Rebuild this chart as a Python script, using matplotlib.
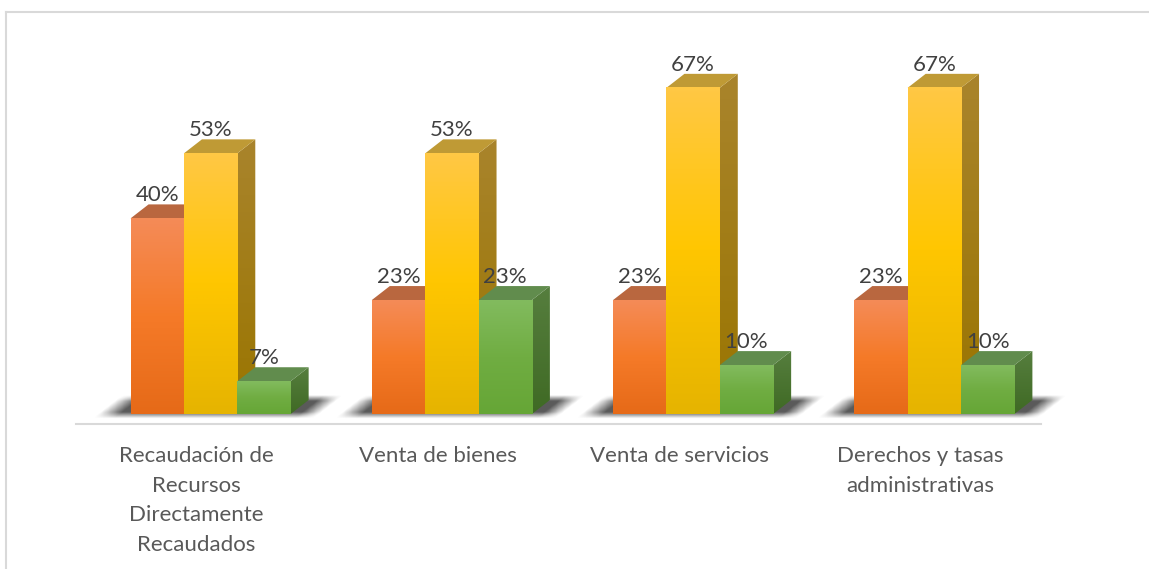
import numpy as np
import matplotlib
matplotlib.use('Agg')
from matplotlib import pyplot as plt
from matplotlib.patches import Polygon

plt.rcParams['font.family'] = ['Lato', 'DejaVu Sans']

categories = ['Recaudación de\nRecursos\nDirectamente\nRecaudados', 'Venta de bienes',
              'Venta de servicios', 'Derechos y tasas\nadministrativas']
serie_naranja = [40, 23.3, 23.3, 23.3]
serie_amarilla = [53.3, 53.3, 66.7, 66.7]
serie_verde = [6.7, 23.3, 10, 10]

W, H = 1149, 569
PX_X = 241.0   # px per category
PX_Y = 4.89    # px per percent
bar_w = 53.3 / PX_X
start = -66 / PX_X
dx = 18 / PX_X
dy = 14 / PX_Y

# colores: arriba, medio, abajo de la cara frontal; tapa; lado arriba, lado abajo
naranja = ['#f48b57', '#f57a28', '#e66a18', '#b9673f', '#b9673f', '#8a4a1c']
amarilla = ['#ffc844', '#ffc600', '#e6b400', '#bf9a35', '#a9842c', '#9a7500']
verde = ['#82bb5e', '#70ad42', '#66a636', '#618c4d', '#567e3e', '#3f6a24']
estilos = [naranja, amarilla, verde]
series = [serie_naranja, serie_amarilla, serie_verde]

fig = plt.figure(figsize=(W / 100, H / 100), dpi=100)
bg = fig.add_axes([0, 0, 1, 1])
bg.set_xlim(0, W)
bg.set_ylim(H, 0)
bg.axis('off')
bg.plot([6, 6], [12, H], color='#d9d9d9', lw=1.5)
bg.plot([6, 1149], [12, 12], color='#d9d9d9', lw=1.5)

left, right = 76, 1041
top, bottom = 12, 424
ax = fig.add_axes([left / W, 1 - bottom / H, (right - left) / W, (bottom - top) / H])
ax.patch.set_alpha(0)
ax.set_xlim(-0.5, 3.5)
ax.set_ylim(-(bottom - 414) / PX_Y, (414 - top) / PX_Y)
for s in ['top', 'left', 'right']:
    ax.spines[s].set_visible(False)
ax.spines['bottom'].set_color('#d9d9d9')
ax.spines['bottom'].set_linewidth(1.5)
ax.set_yticks([])
ax.set_xticks(range(4))
ax.set_xticklabels(categories, fontsize=16, color='#595959', linespacing=1.59)
ax.tick_params(axis='x', length=0, pad=16)


def grad(c1, c2, c3=None, n=64):
    cols = [matplotlib.colors.to_rgb(c) for c in ([c1, c3, c2] if c3 else [c1, c2])]
    return matplotlib.colors.LinearSegmentedColormap.from_list('g', cols, N=n)


def shadow(x0, x1):
    # sombra difuminada bajo cada grupo, se calcula en una rejilla en unidades de datos
    xs = np.linspace(x0 - 0.2, x1 + 0.3, 240)
    ys = np.linspace(-1.2, dy + 2, 60)
    X, Y = np.meshgrid(xs, ys)
    sl = dx / dy
    u = X - Y * sl
    inside_l = np.clip((u - (x0 - 0.135)) / 0.09, 0, 1)
    inside_r = np.clip(((x1 + 0.12) - u) / 0.08, 0, 1)
    inside_y = np.clip((Y + 0.9) / 1.3, 0, 1) * np.clip((dy + 1.0 - Y) / 1.2, 0, 1)
    a = inside_l * inside_r * inside_y
    img = np.zeros(X.shape + (4,))
    img[..., :3] = 0.28
    img[..., 3] = a * 0.9
    ax.imshow(img, extent=[xs[0], xs[-1], ys[0], ys[-1]], origin='lower', aspect='auto',
              zorder=1, clip_on=False)


def bar3d(x, v, st, z):
    x1 = x + bar_w
    yy = np.linspace(1, 0, 128).reshape(-1, 1)
    # lado
    lado = Polygon([(x1, 0), (x1 + dx, dy), (x1 + dx, v + dy), (x1, v)], closed=True,
                   transform=ax.transData, fc='none', ec='none')
    ax.add_patch(lado)
    im = ax.imshow(yy, extent=[x1, x1 + dx, 0, v + dy], cmap=grad(st[5], st[4]), vmin=0, vmax=1,
                   aspect='auto', zorder=z)
    im.set_clip_path(lado)
    # tapa
    ax.add_patch(Polygon([(x, v), (x + dx, v + dy), (x1 + dx, v + dy), (x1, v)], closed=True,
                         fc=st[3], ec='none', zorder=z))
    # frente
    ax.imshow(yy, extent=[x, x1, 0, v], cmap=grad(st[2], st[0], st[1]), vmin=0, vmax=1,
              aspect='auto', zorder=z + 0.1)


for i in range(4):
    x0 = i + start
    shadow(x0, x0 + 3 * bar_w)
    for j in [0, 1, 2]:
        x = x0 + j * bar_w
        v = series[j][i]
        bar3d(x, v, estilos[j], 2 + j)
        ax.text(x + bar_w / 2, v + dy - 0.2, '%.0f%%' % v, ha='center', va='bottom',
                fontsize=16, color='#404040', zorder=10)

ax.set_xlim(-0.5, 3.5)
ax.set_ylim(-(bottom - 414) / PX_Y, (414 - top) / PX_Y)
fig.savefig('out.png', dpi=100)
